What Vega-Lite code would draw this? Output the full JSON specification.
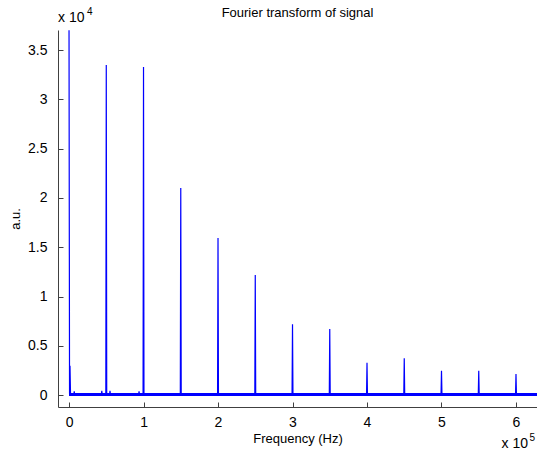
{
  "$schema": "https://vega.github.io/schema/vega-lite/v6.json",
  "width": 479,
  "height": 377,
  "autosize": {"type": "none"},
  "padding": {"left": 58, "top": 30, "right": 0, "bottom": 47},
  "background": "white",
  "config": {
    "view": {"stroke": null},
    "font": "Liberation Sans",
    "axis": {"grid": false, "domainColor": "#404040", "tickColor": "#404040", "labelColor": "#000000", "titleColor": "#000000", "labelFont": "Liberation Sans", "titleFont": "Liberation Sans", "titleFontWeight": "normal", "labelFontSize": 14, "titleFontSize": 13}
  },
  "title": {"text": "Fourier transform of signal", "fontSize": 13, "fontWeight": "normal", "font": "Liberation Sans", "color": "#000000", "anchor": "middle", "frame": "group", "offset": 0, "dy": 13},
  "data": {"values": [
    {"f": 0, "a": 37000},
    {"f": 700, "a": 150},
    {"f": 1300, "a": 3000},
    {"f": 2000, "a": 120},
    {"f": 6500, "a": 120}, {"f": 7000, "a": 400}, {"f": 7500, "a": 120},
    {"f": 43500, "a": 120}, {"f": 44000, "a": 450}, {"f": 44500, "a": 120},
    {"f": 49400, "a": 120}, {"f": 50000, "a": 33480}, {"f": 50600, "a": 120},
    {"f": 54500, "a": 120}, {"f": 55000, "a": 450}, {"f": 55500, "a": 120},
    {"f": 93500, "a": 120}, {"f": 94000, "a": 400}, {"f": 94500, "a": 120},
    {"f": 99400, "a": 120}, {"f": 100000, "a": 33270}, {"f": 100600, "a": 120},
    {"f": 149400, "a": 120}, {"f": 150000, "a": 21010}, {"f": 150600, "a": 120},
    {"f": 199400, "a": 120}, {"f": 200000, "a": 15940}, {"f": 200600, "a": 120},
    {"f": 249400, "a": 120}, {"f": 250000, "a": 12190}, {"f": 250600, "a": 120},
    {"f": 299400, "a": 120}, {"f": 300000, "a": 7200}, {"f": 300600, "a": 120},
    {"f": 349400, "a": 120}, {"f": 350000, "a": 6720}, {"f": 350600, "a": 120},
    {"f": 399400, "a": 120}, {"f": 400000, "a": 3300}, {"f": 400600, "a": 120},
    {"f": 449400, "a": 120}, {"f": 450000, "a": 3750}, {"f": 450600, "a": 120},
    {"f": 499400, "a": 120}, {"f": 500000, "a": 2490}, {"f": 500600, "a": 120},
    {"f": 549400, "a": 120}, {"f": 550000, "a": 2490}, {"f": 550600, "a": 120},
    {"f": 599400, "a": 120}, {"f": 600000, "a": 2160}, {"f": 600600, "a": 120},
    {"f": 628200, "a": 120}
  ]},
  "layer": [
    {
      "mark": {"type": "rule", "color": "#0000FF", "strokeWidth": 2.5},
      "encoding": {
        "x": {"datum": 0, "type": "quantitative"},
        "x2": {"datum": 628200},
        "y": {"datum": 100, "type": "quantitative"}
      }
    },
    {
      "mark": {"type": "line", "color": "#0000FF", "strokeWidth": 1.2, "clip": true},
      "encoding": {
        "x": {"field": "f", "type": "quantitative",
          "scale": {"domain": [-14800, 628200], "nice": false, "zero": false},
          "axis": {"title": "Frequency (Hz)", "values": [0, 100000, 200000, 300000, 400000, 500000, 600000], "labelExpr": "'' + (datum.value / 100000)", "tickSize": -5, "labelPadding": 13, "titlePadding": 3}},
        "y": {"field": "a", "type": "quantitative",
          "scale": {"domain": [-1190, 37030], "nice": false, "zero": false},
          "axis": {"title": "a.u.", "values": [0, 5000, 10000, 15000, 20000, 25000, 30000, 35000], "labelExpr": "'' + (datum.value / 10000)", "tickSize": -5, "labelPadding": 16, "titlePadding": 5}}
      }
    },
    {
      "data": {"values": [{"label": "x 10"}]},
      "mark": {"type": "text", "align": "left", "baseline": "alphabetic", "fontSize": 14, "font": "Liberation Sans", "color": "#000000"},
      "encoding": {
        "x": {"datum": -14800, "type": "quantitative"},
        "y": {"datum": 37840, "type": "quantitative"},
        "text": {"field": "label"}
      }
    },
    {
      "data": {"values": [{"label": "4"}]},
      "mark": {"type": "text", "align": "left", "baseline": "alphabetic", "fontSize": 10, "font": "Liberation Sans", "color": "#000000", "dx": 29, "dy": -7},
      "encoding": {
        "x": {"datum": -14800, "type": "quantitative"},
        "y": {"datum": 37840, "type": "quantitative"},
        "text": {"field": "label"}
      }
    },
    {
      "data": {"values": [{"label": "x 10"}]},
      "mark": {"type": "text", "align": "right", "baseline": "alphabetic", "fontSize": 14, "font": "Liberation Sans", "color": "#000000", "dx": -9},
      "encoding": {
        "x": {"datum": 628200, "type": "quantitative"},
        "y": {"datum": -5350, "type": "quantitative"},
        "text": {"field": "label"}
      }
    },
    {
      "data": {"values": [{"label": "5"}]},
      "mark": {"type": "text", "align": "right", "baseline": "alphabetic", "fontSize": 10, "font": "Liberation Sans", "color": "#000000", "dx": -2, "dy": -7},
      "encoding": {
        "x": {"datum": 628200, "type": "quantitative"},
        "y": {"datum": -5350, "type": "quantitative"},
        "text": {"field": "label"}
      }
    }
  ]
}
